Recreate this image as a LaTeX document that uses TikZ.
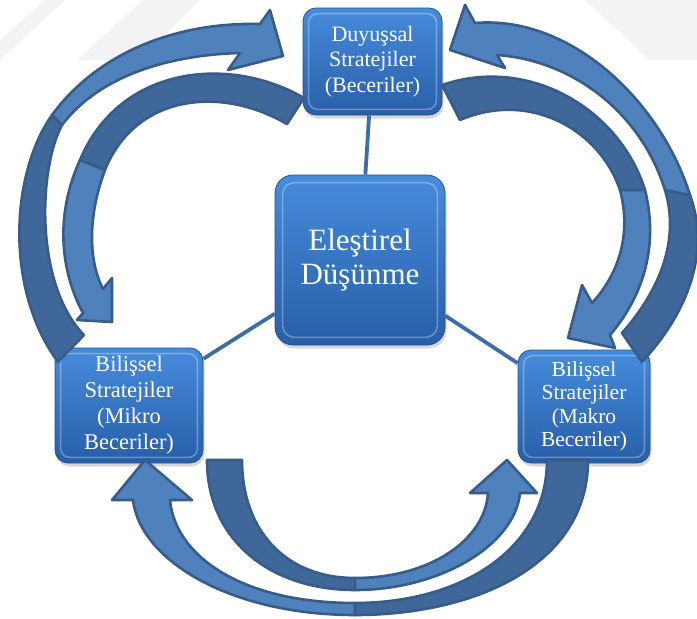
\documentclass[tikz,border=0pt]{standalone}
\usepackage{fontspec}
\setmainfont{Liberation Serif}
\usetikzlibrary{shadows}
\definecolor{arrlight}{RGB}{79,129,189}
\definecolor{arrdark}{RGB}{64,103,153}
\definecolor{arrline}{RGB}{56,92,138}
\definecolor{boxtop}{RGB}{70,140,220}
\definecolor{boxbot}{RGB}{40,94,168}
\definecolor{boxedge}{RGB}{38,82,145}
\definecolor{linkc}{RGB}{62,108,165}
\definecolor{wm}{RGB}{243,243,243}
\begin{document}
\begin{tikzpicture}[x=1pt,y=-1pt,
  box/.style={rounded corners=13pt, top color=boxtop, bottom color=boxbot, draw=boxedge, line width=0.8pt, text=white, align=center, inner sep=0pt, drop shadow={opacity=0.3, shadow xshift=1.5pt, shadow yshift=-3.5pt}},
  bev/.style={rounded corners=9pt, draw=white, draw opacity=0.3, line width=1.6pt},
  link/.style={draw=linkc, line width=3.8pt},
  darkpart/.style={fill=arrdark, draw=arrline, line width=2.6pt, line join=round},
  lightpart/.style={fill=arrlight, draw=arrline, line width=2.6pt, line join=round}]
\useasboundingbox[fill=white] (0,0) rectangle (697,619);
% faint watermark bands
\fill[wm] (0,60) -- (0,40) -- (45,0) -- (65,0) -- cycle;
\fill[wm] (77,60) -- (143,0) -- (200,0) -- (140,60) -- cycle;
\fill[wm] (585,0) -- (697,0) -- (697,60) -- (650,60) -- cycle;
% boxes
\node[box, minimum width=139pt, minimum height=107pt, font=\fontsize{22}{25.5}\selectfont] (duy) at (372.5,61.5) {Duyuşsal\\Stratejiler\\(Beceriler)};
\node[box, rounded corners=18pt, minimum width=170pt, minimum height=170pt, font=\fontsize{31}{34}\selectfont] (ele) at (360,260) {Eleştirel\\Düşünme};
\node[box, minimum width=148pt, minimum height=115pt, font=\fontsize{22.5}{26}\selectfont] (mik) at (129,405.5) {Bilişsel\\Stratejiler\\(Mikro\\Beceriler)};
\node[box, minimum width=132pt, minimum height=113pt, font=\fontsize{21.5}{23.5}\selectfont] (mak) at (584,406.5) {Bilişsel\\Stratejiler\\(Makro\\Beceriler)};
% bevels
\foreach \n in {duy,mik,mak}
  \draw[bev] ([shift={(6pt,-6pt)}]\n.north west) rectangle ([shift={(-6pt,6pt)}]\n.south east);
\draw[bev, rounded corners=12pt] ([shift={(8pt,-8pt)}]ele.north west) rectangle ([shift={(-8pt,8pt)}]ele.south east);
% connectors
\draw[link] (ele) -- (duy);
\draw[link] (ele) -- (mik);
\draw[link] (ele) -- (mak);
% arrow A: left -> top (outer)
\path[darkpart] (58,362) .. controls (5,290) and (10,175) .. (52,115) -- (62,125) .. controls (38,170) and (35,285) .. (84,335) -- cycle;
\path[lightpart] (52,115) .. controls (100,50) and (180,22) .. (260,24) -- (270,10) -- (283,56) -- (228,70) -- (240,53) .. controls (170,55) and (100,75) .. (62,125) -- cycle;
% arrow B: top -> left (inner)
\path[darkpart] (304,98) .. controls (230,55) and (120,65) .. (80,160) -- (105,170) .. controls (135,95) and (220,85) .. (287,124) -- cycle;
\path[lightpart] (80,160) .. controls (55,215) and (60,270) .. (83,313) -- (77,320) -- (112,322) -- (112,278) -- (103,289) .. controls (88,260) and (88,215) .. (105,170) -- cycle;
% arrow C: right -> top (outer)
\path[darkpart] (642,362) .. controls (690,310) and (710,250) .. (690,195) -- (665,190) .. controls (680,240) and (660,290) .. (622,333) -- cycle;
\path[lightpart] (690,195) .. controls (660,100) and (570,15) .. (475,23) -- (465,5) -- (450,50) -- (505,68) -- (497,55) .. controls (570,60) and (640,110) .. (665,190) -- cycle;
% arrow D: top -> right (inner)
\path[darkpart] (442,85) .. controls (530,55) and (620,110) .. (645,190) -- (620,190) .. controls (600,130) and (530,90) .. (460,120) -- cycle;
\path[lightpart] (645,190) .. controls (660,250) and (640,300) .. (610,335) -- (615,348) -- (568,338) -- (582,285) -- (592,303) .. controls (618,275) and (632,235) .. (620,190) -- cycle;
% arrow E: right -> left (outer bottom)
\path[darkpart] (588,460) .. controls (588,565) and (475,615) .. (355,615) -- (355,603) .. controls (460,603) and (547,550) .. (547,460) -- cycle;
\path[lightpart] (355,615) .. controls (230,615) and (140,560) .. (133,500) -- (112,500) -- (145,460) -- (192,500) -- (170,500) .. controls (175,555) and (240,603) .. (355,603) -- cycle;
% arrow F: left -> right (inner bottom)
\path[darkpart] (207,460) .. controls (207,540) and (270,590) .. (355,590) -- (355,578) .. controls (285,578) and (242,530) .. (242,460) -- cycle;
\path[lightpart] (355,590) .. controls (440,590) and (515,545) .. (520,493) -- (537,493) -- (507,460) -- (470,493) -- (488,493) .. controls (485,540) and (430,578) .. (355,578) -- cycle;
\end{tikzpicture}
\end{document}
